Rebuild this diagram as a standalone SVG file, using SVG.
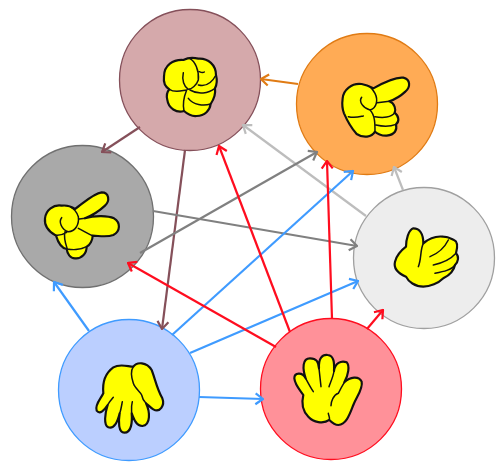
<svg xmlns="http://www.w3.org/2000/svg" width="496" height="462" viewBox="0 0 496 462">
<style>
.c{fill:none;stroke-width:2.2}
.o{stroke:#e07b14}.b{stroke:#85505a}.g{stroke:#808080}.l{stroke:#bdbdbd}.u{stroke:#3f9bff}.r{stroke:#ff0d1f}
.n{stroke-width:1.3}
.h{fill:#ffff00;stroke:#111;stroke-width:6.500;stroke-linejoin:round;stroke-linecap:round}
.i{fill:none;stroke:#111;stroke-width:4.500;stroke-linecap:round}
</style>
<defs>
<marker id="mo" viewBox="-9 -7 10 14" refX="0" refY="0" markerWidth="10" markerHeight="14" markerUnits="userSpaceOnUse" orient="auto"><path d="M-7.500,-5.500L0,0L-7.500,5.500" fill="none" stroke="#e07b14" stroke-width="2.200"/></marker>
<marker id="mb" viewBox="-9 -7 10 14" refX="0" refY="0" markerWidth="10" markerHeight="14" markerUnits="userSpaceOnUse" orient="auto"><path d="M-7.500,-5.500L0,0L-7.500,5.500" fill="none" stroke="#85505a" stroke-width="2.200"/></marker>
<marker id="mg" viewBox="-9 -7 10 14" refX="0" refY="0" markerWidth="10" markerHeight="14" markerUnits="userSpaceOnUse" orient="auto"><path d="M-7.500,-5.500L0,0L-7.500,5.500" fill="none" stroke="#808080" stroke-width="2.200"/></marker>
<marker id="ml" viewBox="-9 -7 10 14" refX="0" refY="0" markerWidth="10" markerHeight="14" markerUnits="userSpaceOnUse" orient="auto"><path d="M-7.500,-5.500L0,0L-7.500,5.500" fill="none" stroke="#bdbdbd" stroke-width="2.200"/></marker>
<marker id="mu" viewBox="-9 -7 10 14" refX="0" refY="0" markerWidth="10" markerHeight="14" markerUnits="userSpaceOnUse" orient="auto"><path d="M-7.500,-5.500L0,0L-7.500,5.500" fill="none" stroke="#3f9bff" stroke-width="2.200"/></marker>
<marker id="mr" viewBox="-9 -7 10 14" refX="0" refY="0" markerWidth="10" markerHeight="14" markerUnits="userSpaceOnUse" orient="auto"><path d="M-7.500,-5.500L0,0L-7.500,5.500" fill="none" stroke="#ff0d1f" stroke-width="2.200"/></marker>
</defs>
<rect width="496" height="462" fill="#fff"/>
<g id="node-rock">
<circle class="n" cx="190" cy="80" r="70.500" fill="#d5a9ab" stroke="#85505a"/>
<g transform="translate(140,30) scale(.3333)">
<path class="h" d="M72,140C72,105 100,88 130,90C145,82 160,82 175,86C205,84 228,105 228,135C232,150 230,165 225,175C228,195 220,210 212,222C210,240 195,258 170,258C155,260 140,250 132,243C110,250 85,235 82,210C78,195 82,185 88,178C75,170 70,155 72,140Z"/>
<path class="i" d="M150,86C165,95 178,120 175,150C170,165 155,178 145,178C132,170 125,150 130,128M178,125Q188,130 193,126M175,165C195,170 215,160 228,135M150,180C175,195 205,190 225,175M145,205C160,225 190,228 212,222M88,178C105,190 125,182 140,180C130,205 128,225 132,243"/>
</g>
</g>
<g id="node-point">
<circle class="n" cx="367" cy="104" r="70.500" fill="#ffab55" stroke="#e07b14"/>
<g transform="translate(320,60) scale(.3333)">
<path class="h" d="M68,115C70,90 95,68 125,72C140,75 150,80 160,85C190,68 225,50 250,53C272,58 272,82 256,95C240,110 220,120 208,124C225,130 228,150 224,158C238,170 238,185 228,193C232,210 225,224 200,227C185,228 170,220 165,215C155,232 130,235 110,222C95,205 85,190 72,160C66,145 66,130 68,115Z"/>
<path class="i" d="M125,112C115,125 130,145 150,150C170,145 175,120 165,100C160,90 155,85 150,80M172,128L208,124M165,170C190,175 215,172 224,158M168,195C190,200 215,198 228,193M150,150C165,165 165,190 165,215M85,170C105,175 120,170 130,168"/>
</g>
</g>
<g id="node-scissors">
<circle class="n" cx="82.500" cy="216.500" r="71" fill="#a9a9a9" stroke="#707070"/>
<g transform="translate(30,175) scale(.3333)">
<path class="h" d="M45,130C48,105 70,88 95,92C110,90 125,95 135,102C160,85 190,55 215,52C238,52 240,78 225,92C208,108 185,122 165,130C195,120 235,122 252,130C272,142 272,168 250,180C230,188 205,182 188,182C188,195 180,210 170,215C170,235 155,252 135,250C120,250 112,235 110,222C95,220 85,205 78,182C60,172 42,155 45,130Z"/>
<path class="i" d="M95,128C85,140 95,165 115,170C135,170 148,150 145,125C140,110 130,100 120,95M148,132L165,130M145,160C165,170 175,178 188,182M105,170C100,190 108,210 112,222C125,225 150,225 170,215M75,180C90,183 100,178 110,172"/>
</g>
</g>
<g id="node-thumb">
<circle class="n" cx="424" cy="258" r="70.500" fill="#ededed" stroke="#a0a0a0"/>
<g transform="translate(380,215) scale(.3333)">
<path class="h" d="M45,140C50,120 65,105 78,95C78,75 85,45 100,40C118,40 130,55 130,85C145,72 165,62 190,65C205,65 215,72 222,75C235,80 232,100 228,115C238,125 235,140 225,150C222,165 210,180 190,190C175,205 150,215 130,215C105,215 85,200 78,185C55,175 40,160 45,140Z"/>
<path class="i" d="M130,85C120,105 125,130 115,155M150,125C175,115 195,95 205,75M160,150C185,145 210,135 228,115M165,175C190,170 215,165 225,150"/>
</g>
</g>
<g id="node-hand-down">
<circle class="n" cx="129" cy="390" r="70.500" fill="#bbcfff" stroke="#3f9bff"/>
<g transform="translate(85,350) scale(.3333)">
<path class="h" d="M55,130C52,100 60,70 85,52C105,40 130,50 145,50C155,35 185,35 200,60C210,85 215,115 232,145C240,165 225,190 205,178C195,172 190,165 183,160C195,185 198,225 172,228C150,228 145,200 140,190C142,215 140,248 118,248C100,248 100,215 104,190C98,215 88,238 70,232C55,225 60,190 68,165C58,180 45,195 35,182C28,165 48,145 55,130Z"/>
<path class="i" d="M145,50C135,65 140,85 145,100C150,115 165,125 170,135C172,145 178,155 183,160M85,142C78,150 72,158 68,165M112,155C110,165 108,180 104,190M142,155C138,170 140,180 140,190"/>
</g>
</g>
<g id="node-hand-up">
<circle class="n" cx="331" cy="389" r="70.500" fill="#ff9199" stroke="#ff0d1f"/>
<g transform="translate(285,345) scale(.3333)">
<path class="h" d="M28,100C28,82 52,80 62,100C52,70 52,40 75,40C95,40 100,50 102,70C100,40 112,28 128,30C148,32 148,55 147,78C150,55 168,45 185,52C195,62 190,90 178,112C195,95 222,92 230,110C235,130 215,155 205,180C195,205 185,238 160,240C150,240 140,232 133,225C115,238 85,232 70,215C50,195 50,170 55,150C45,135 30,120 28,100Z"/>
<path class="i" d="M62,100C70,115 78,130 85,140M102,70L108,125M147,78C145,95 135,115 132,125M178,112C170,125 165,135 160,145C145,150 138,170 138,182M133,225C135,215 130,210 130,205"/>
</g>
</g>
<g id="connectors">
<path class="c l" marker-end="url(#ml)" d="M366,216L243,125"/>
<path class="c l" marker-end="url(#ml)" d="M403,190L394,167"/>
<path class="c o" marker-end="url(#mo)" d="M298,84L261,79"/>
<path class="c b" marker-end="url(#mb)" d="M140,127L102,152"/>
<path class="c b" marker-end="url(#mb)" d="M185,150L162,329"/>
<path class="c g" marker-end="url(#mg)" d="M140,253L317,152"/>
<path class="c g" marker-end="url(#mg)" d="M153,211L357,246"/>
<path class="c u" marker-end="url(#mu)" d="M89,331L54,282"/>
<path class="c u" marker-end="url(#mu)" d="M172,335L353,171"/>
<path class="c u" marker-end="url(#mu)" d="M190,353L358,281"/>
<path class="c u" marker-end="url(#mu)" d="M199,397L263,399"/>
<path class="c r" marker-end="url(#mr)" d="M276,347L128,263"/>
<path class="c r" marker-end="url(#mr)" d="M290,332L219,146"/>
<path class="c r" marker-end="url(#mr)" d="M332,319L327,161"/>
<path class="c r" marker-end="url(#mr)" d="M367,329L383,310"/>
</g>
</svg>
